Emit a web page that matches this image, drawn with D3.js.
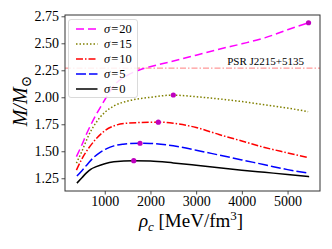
<!DOCTYPE html>
<html><head><meta charset="utf-8">
<script src="https://cdn.jsdelivr.net/npm/d3@7"></script>
<style>body{margin:0;background:#fff;} svg{display:block;font-family:"Liberation Serif","DejaVu Serif",serif;}</style>
</head><body><svg id="c" width="332" height="249"></svg>
<script>
// ---- data ----
const sigmaLabels = ["20", "15", "10", "5", "0"];
const seriesColors = ["#ff00ff", "#808000", "#ff0000", "#0000ff", "#000000"];
const rho20 = [380, 500, 600, 750, 970, 1225, 1500, 1800, 2100, 2400, 3000, 3500, 4000, 4500, 5000, 5459];
const mass20 = [1.45, 1.56, 1.66, 1.79, 1.955, 2.12, 2.205, 2.26, 2.295, 2.325, 2.39, 2.445, 2.495, 2.55, 2.625, 2.69];
const rho15 = [380, 500, 650, 800, 1000, 1200, 1500, 2000, 2500, 3000, 3500, 4000, 4500, 5000, 5450];
const mass15 = [1.39, 1.50, 1.65, 1.76, 1.86, 1.92, 1.965, 2.0, 2.02, 2.005, 1.985, 1.96, 1.93, 1.90, 1.867];
const rho10 = [380, 500, 650, 800, 1000, 1200, 1500, 2172, 2500, 3000, 3500, 4000, 4500, 5000, 5459];
const mass10 = [1.325, 1.43, 1.53, 1.61, 1.69, 1.735, 1.76, 1.77, 1.76, 1.72, 1.655, 1.595, 1.535, 1.485, 1.44];
const rho5 = [390, 500, 640, 750, 900, 1044, 1200, 1400, 1772, 2000, 2500, 3000, 3500, 4000, 4500, 5000, 5472];
const mass5 = [1.27, 1.32, 1.39, 1.44, 1.49, 1.525, 1.55, 1.565, 1.575, 1.573, 1.55, 1.51, 1.465, 1.42, 1.375, 1.33, 1.296];
const rho0 = [390, 500, 600, 700, 800, 1000, 1200, 1634, 2000, 2500, 3000, 3500, 4000, 4500, 5000, 5472];
const mass0 = [1.205, 1.255, 1.30, 1.335, 1.355, 1.385, 1.402, 1.413, 1.41, 1.392, 1.37, 1.347, 1.325, 1.305, 1.285, 1.265];
const maxRho = [5459, 2500, 2172, 1772, 1634];
const maxMass = [2.69, 2.021, 1.769, 1.574, 1.413];
const psrMass = 2.27;
const psrLabel = "PSR J2215+5135";
const xTicks = [1000, 2000, 3000, 4000, 5000];
const yTicks = [1.25, 1.50, 1.75, 2.00, 2.25, 2.50, 2.75];

const rhoSeries = [rho20, rho15, rho10, rho5, rho0];
const massSeries = [mass20, mass15, mass10, mass5, mass0];
const dashes = ["8,4", "1.5,2", "7,2,1.5,2", "10,3", null];

// ---- layout ----
const svg = d3.select("#c");
const L = 65, R = 320, T = 15, B = 191;
const x = d3.scaleLinear().domain([130, 5710]).range([L, R]);
const y = d3.scaleLinear().domain([1.132, 2.762]).range([B, T]);

// PSR line
svg.append("line").attr("x1", L).attr("x2", R).attr("y1", y(psrMass)).attr("y2", y(psrMass))
  .attr("stroke", "#ff7f7f").attr("stroke-width", 1).attr("stroke-dasharray", "6,2,1.5,2");
svg.append("text").attr("x", 304).attr("y", y(psrMass) - 3.5).attr("text-anchor", "end")
  .attr("font-size", 11).attr("fill", "#000").text(psrLabel);

const line = d3.line().x(d => x(d[0])).y(d => y(d[1])).curve(d3.curveMonotoneX);
for (let i = rhoSeries.length - 1; i >= 0; i--) {
  const pts = rhoSeries[i].map((r, j) => [r, massSeries[i][j]]);
  const p = svg.append("path").attr("d", line(pts)).attr("fill", "none")
    .attr("stroke", seriesColors[i]).attr("stroke-width", 1.5);
  if (dashes[i]) p.attr("stroke-dasharray", dashes[i]);
}
// max points
svg.selectAll("circle.m").data(maxRho).enter().append("circle")
  .attr("cx", d => x(d)).attr("cy", (d, i) => y(maxMass[i])).attr("r", 2.6).attr("fill", "#bf00bf");

// axes
const xa = svg.append("g").attr("transform", `translate(0,${B})`)
  .call(d3.axisBottom(x).tickValues(xTicks).tickFormat(d3.format("d")).tickSize(3.5).tickPadding(2));
const ya = svg.append("g").attr("transform", `translate(${L},0)`)
  .call(d3.axisLeft(y).tickValues(yTicks).tickFormat(d3.format(".2f")).tickSize(3.5).tickPadding(2.5));
[xa, ya].forEach(g => {
  g.select(".domain").remove();
  g.selectAll("text").attr("font-size", 14).attr("fill", "#000").style("font-family", "Liberation Serif");
  g.selectAll("line").attr("stroke", "#222").attr("stroke-width", 0.8);
});
xa.selectAll("text").attr("dy", "0.7em");
svg.append("rect").attr("x", L).attr("y", T).attr("width", R - L).attr("height", B - T)
  .attr("fill", "none").attr("stroke", "#333").attr("stroke-width", 1);

// legend
const lg = svg.append("g");
lg.append("rect").attr("x", 68.5).attr("y", 19.5).attr("width", 69).attr("height", 78).attr("rx", 2.5)
  .attr("fill", "#fff").attr("fill-opacity", 0.85).attr("stroke", "#d0d0d0").attr("stroke-width", 0.8);
sigmaLabels.forEach((s, i) => {
  const yy = 29 + i * 15;
  const l = lg.append("line").attr("x1", 76).attr("x2", 97.5).attr("y1", yy).attr("y2", yy)
    .attr("stroke", seriesColors[i]).attr("stroke-width", 1.5);
  if (dashes[i]) l.attr("stroke-dasharray", dashes[i]);
  const t = lg.append("text").attr("x", 104).attr("y", yy + 4).attr("font-size", 12.5).attr("fill", "#000");
  t.append("tspan").attr("font-style", "italic").text("σ");
  t.append("tspan").attr("dx", 1).text("=");
  t.append("tspan").attr("dx", 1).text(s);
});

// axis labels
const yl = svg.append("text").attr("transform", "translate(27,101) rotate(-90)").attr("text-anchor", "middle")
  .attr("font-size", 20).attr("fill", "#000");
yl.append("tspan").attr("font-style", "italic").text("M/M");
yl.append("tspan").attr("font-size", 14).attr("dy", 4).text("⊙");

const xl = svg.append("text").attr("x", 191).attr("y", 227).attr("text-anchor", "middle")
  .attr("font-size", 19).attr("fill", "#000");
xl.append("tspan").attr("font-style", "italic").text("ρ");
xl.append("tspan").attr("font-style", "italic").attr("font-size", 13).attr("dy", 4).text("c");
xl.append("tspan").attr("dy", -4).text(" [MeV/fm");
xl.append("tspan").attr("font-size", 13).attr("dy", -7).text("3");
xl.append("tspan").attr("dy", 7).text("]");
</script></body></html>
